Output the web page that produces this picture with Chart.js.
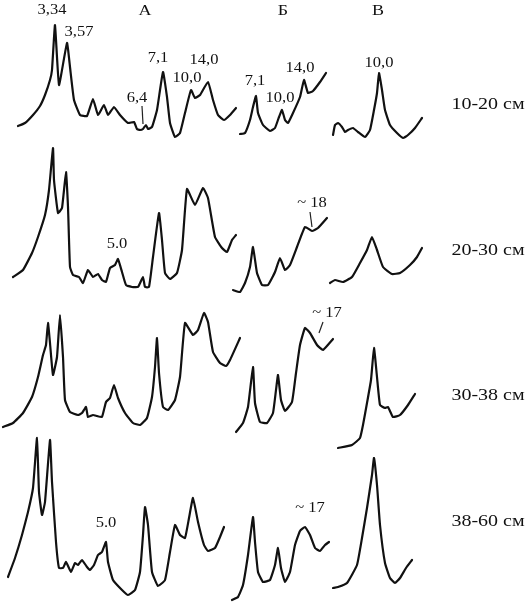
<!DOCTYPE html>
<html>
<head>
<meta charset="utf-8">
<script src="https://cdn.jsdelivr.net/npm/chart.js@4/dist/chart.umd.min.js"></script>
<style>
  html, body { margin: 0; padding: 0; background: #fff; }
  #xrd { display: block; }
</style>
</head>
<body>
<canvas id="xrd" width="529" height="604"></canvas>
<script>
/*************************/
/**   Diffractograms    **/
/*************************/

// panel headers and depth rows
var columns = ["А", "Б", "В"];
var depths = ["10-20 см", "20-30 см", "30-38 см", "38-60 см"];

// row 1 (10-20 cm)
var a1X = [18, 25, 33, 40, 45, 50, 52, 55, 59, 67, 70, 74, 80, 87, 93, 98, 104, 108, 114, 120, 128, 134, 137, 140, 143, 146, 148, 152, 157, 163, 167, 170, 175, 180, 185, 191, 195, 200, 208, 213, 218, 224, 230, 236];
var a1Y = [126, 123, 115, 106, 95, 80, 70, 25, 85, 43, 67, 100, 115, 116, 99, 115, 105, 115, 107, 115, 123, 122, 129, 130, 129, 125, 129, 127, 110, 72, 97, 123, 137, 133, 113, 90, 98, 95, 82, 100, 115, 120, 115, 108];
var b1X = [240, 245, 250, 253, 256, 258, 263, 270, 275, 279, 282, 285, 288, 293, 300, 304, 308, 313, 320, 326];
var b1Y = [134, 133, 120, 107, 96, 113, 125, 131, 128, 117, 110, 120, 123, 113, 97, 80, 93, 91, 82, 73];
var v1X = [333, 335, 338, 342, 345, 348, 353, 358, 365, 370, 374, 377, 379, 382, 385, 390, 397, 403, 408, 415, 422];
var v1Y = [135, 125, 123, 127, 132, 130, 128, 132, 137, 130, 110, 93, 73, 90, 110, 125, 133, 138, 135, 128, 118];

// row 2 (20-30 cm)
var a2X = [13, 23, 32, 38, 45, 49, 53, 54, 58, 62, 66, 68, 70, 73, 79, 83, 88, 93, 98, 102, 106, 110, 115, 118, 122, 126, 132, 138, 143, 145, 149, 153, 159, 162, 165, 170, 177, 182, 187, 195, 203, 208, 215, 222, 227, 232, 236];
var a2Y = [277, 270, 253, 237, 215, 190, 148, 180, 213, 208, 172, 207, 267, 275, 277, 283, 270, 277, 274, 280, 282, 268, 265, 259, 272, 285, 287, 287, 277, 287, 287, 257, 213, 240, 273, 279, 273, 250, 189, 205, 188, 198, 237, 248, 252, 240, 235];
var b2X = [233, 240, 245, 250, 253, 257, 262, 268, 275, 280, 285, 290, 297, 305, 312, 318, 327];
var b2Y = [290, 292, 283, 267, 247, 273, 285, 285, 272, 258, 270, 265, 247, 227, 231, 228, 218];
var v2X = [330, 335, 343, 352, 360, 367, 372, 377, 383, 392, 400, 410, 417, 422];
var v2Y = [283, 280, 282, 277, 263, 250, 237, 250, 267, 274, 273, 265, 257, 248];

// row 3 (30-38 cm)
var a3X = [3, 13, 23, 32, 38, 43, 46, 48, 50, 53, 57, 60, 63, 65, 70, 78, 82, 86, 88, 93, 97, 102, 106, 110, 114, 118, 125, 133, 140, 147, 152, 155, 157, 159, 163, 168, 175, 180, 185, 193, 198, 204, 208, 213, 220, 226, 230, 240];
var a3Y = [427, 423, 413, 397, 377, 355, 345, 323, 343, 375, 357, 315, 357, 400, 412, 415, 413, 407, 417, 415, 416, 417, 402, 398, 385, 398, 413, 423, 425, 418, 397, 367, 338, 373, 407, 410, 400, 377, 323, 335, 330, 313, 322, 352, 363, 366, 360, 338];
var b3X = [236, 243, 248, 253, 255, 260, 267, 273, 276, 278, 281, 285, 292, 296, 300, 305, 310, 317, 323, 333];
var b3Y = [432, 423, 407, 367, 403, 422, 423, 413, 390, 375, 400, 411, 402, 373, 345, 328, 333, 345, 350, 339];
var v3X = [338, 352, 360, 363, 367, 371, 374, 377, 380, 385, 388, 393, 400, 408, 415];
var v3Y = [448, 445, 438, 425, 403, 380, 348, 377, 405, 408, 407, 417, 415, 405, 394];

// row 4 (38-60 cm)
var a4X = [8, 15, 22, 28, 33, 37, 39, 42, 45, 50, 52, 56, 59, 63, 66, 71, 75, 78, 82, 87, 90, 94, 98, 102, 106, 108, 113, 122, 128, 135, 140, 143, 145, 148, 152, 158, 165, 170, 175, 180, 185, 189, 193, 198, 204, 208, 215, 220, 224];
var a4Y = [577, 558, 535, 512, 488, 438, 492, 515, 502, 440, 482, 542, 568, 568, 562, 572, 563, 565, 560, 567, 570, 565, 555, 552, 542, 562, 580, 590, 595, 590, 572, 535, 507, 525, 572, 586, 580, 552, 525, 535, 538, 518, 498, 522, 545, 551, 548, 537, 527];
var b4X = [232, 238, 243, 248, 253, 255, 258, 263, 270, 275, 278, 281, 285, 290, 295, 300, 305, 310, 315, 320, 325, 329];
var b4Y = [600, 597, 585, 555, 517, 542, 572, 582, 580, 565, 548, 568, 582, 572, 545, 531, 527, 535, 548, 551, 545, 542];
var v4X = [333, 338, 347, 357, 362, 367, 372, 374, 377, 380, 385, 390, 395, 400, 406, 412];
var v4Y = [588, 587, 583, 565, 538, 508, 475, 458, 485, 525, 563, 578, 583, 578, 568, 560];

// peak labels (d, Å)
var peakText = ["3,34", "3,57", "6,4", "7,1", "10,0", "14,0", "7,1", "10,0", "14,0", "10,0", "5.0", "~ 18", "~ 17", "5.0", "~ 17"];
var peakX = [52, 79, 137, 158, 187, 204, 255, 280, 300, 379, 117, 312, 327, 106, 310];
var peakY = [10, 32, 98, 58, 78, 60, 81, 98, 68, 63, 244, 203, 313, 523, 508];

// leader lines
var leadX = [[142, 143], [310, 312], [323, 319]];
var leadY = [[106, 124], [212, 227], [322, 333]];

var headerX = [145, 283, 378];
var headerY = 11;
var depthX = 488;
var depthY = [105, 251, 396, 522];

function pts(xs, ys) {
    return xs.map(function (x, i) { return { x: x, y: ys[i] }; });
}

var curves = [
    [a1X, a1Y], [b1X, b1Y], [v1X, v1Y],
    [a2X, a2Y], [b2X, b2Y], [v2X, v2Y],
    [a3X, a3Y], [b3X, b3Y], [v3X, v3Y],
    [a4X, a4Y], [b4X, b4Y], [v4X, v4Y]
];

var datasets = curves.map(function (c) {
    return {
        data: pts(c[0], c[1]),
        showLine: true,
        borderColor: "#111",
        borderWidth: 2.2,
        pointRadius: 0,
        tension: 0.12,
        borderJoinStyle: "round",
        borderCapStyle: "round"
    };
});
leadX.forEach(function (lx, i) {
    datasets.push({
        data: pts(lx, leadY[i]),
        showLine: true,
        borderColor: "#222",
        borderWidth: 1.2,
        pointRadius: 0
    });
});

// text in the figure is a little wider than the font, so stretch it
function wideText(ctx, t, x, y, sx) {
    ctx.save();
    ctx.translate(x, y);
    ctx.scale(sx, 1);
    ctx.fillText(t, 0, 0);
    ctx.restore();
}

var textPlugin = {
    id: "texts",
    afterDatasetsDraw: function (chart) {
        var ctx = chart.ctx;
        var sx = chart.scales.x, sy = chart.scales.y;
        ctx.save();
        ctx.fillStyle = "#111";
        ctx.textAlign = "center";
        ctx.textBaseline = "middle";
        ctx.font = "14px 'Liberation Serif', serif";
        peakText.forEach(function (t, i) {
            wideText(ctx, t, sx.getPixelForValue(peakX[i]), sy.getPixelForValue(peakY[i]), 1.18);
        });
        ctx.font = "15px 'Liberation Serif', serif";
        columns.forEach(function (t, i) {
            wideText(ctx, t, sx.getPixelForValue(headerX[i]), sy.getPixelForValue(headerY), 1.2);
        });
        ctx.font = "16px 'Liberation Serif', serif";
        depths.forEach(function (t, i) {
            wideText(ctx, t, sx.getPixelForValue(depthX), sy.getPixelForValue(depthY[i]), 1.25);
        });
        ctx.restore();
    }
};

var ctxX = document.getElementById("xrd").getContext('2d');
var xrdChart = new Chart(ctxX, {
    type: 'scatter',
    data: { datasets: datasets },
    options: {
        responsive: false,
        animation: false,
        layout: { padding: 0 },
        plugins: { legend: { display: false }, tooltip: { enabled: false } },
        scales: {
            x: { type: 'linear', min: 0, max: 529, display: false },
            y: { type: 'linear', min: 0, max: 604, reverse: true, display: false }
        }
    },
    plugins: [textPlugin]
});
</script>
</body>
</html>
